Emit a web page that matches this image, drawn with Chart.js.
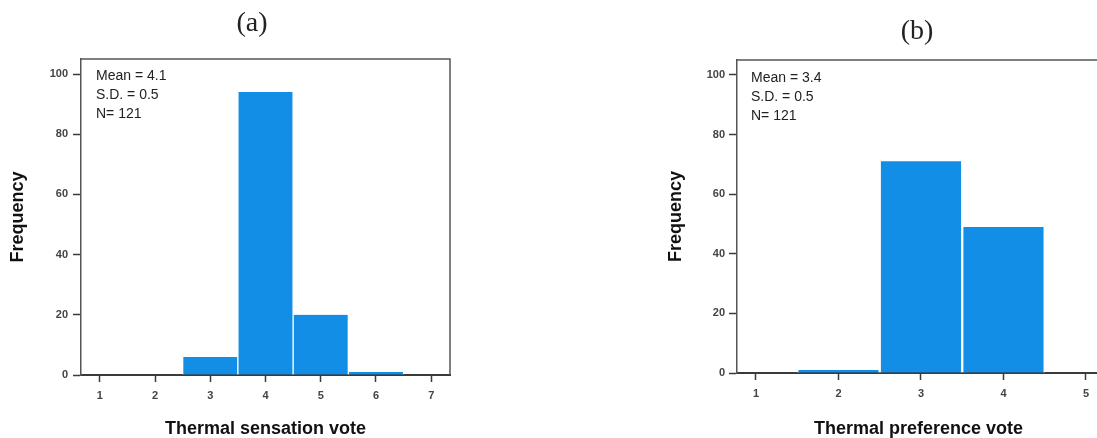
<!DOCTYPE html>
<html>
<head>
<meta charset="utf-8">
<script src="https://cdn.jsdelivr.net/npm/chart.js@4.4.1/dist/chart.umd.min.js"></script>
<style>
  html, body { margin: 0; padding: 0; background: #fff; overflow: hidden; width: 1097px; height: 438px; }
  .panel { position: absolute; top: 0; height: 438px; width: 470px; }
  #panelA { left: 0; }
  #panelB { left: 640px; }
</style>
</head>
<body>
<div class="panel" id="panelA"><canvas id="chartA" width="470" height="438"></canvas></div>
<div class="panel" id="panelB"><canvas id="chartB" width="470" height="438"></canvas></div>
<script>
// Thermal sensation vote (7-point scale)
const sensationVotes = [1, 2, 3, 4, 5, 6, 7];
const sensationCounts = [0, 0, 6, 94, 20, 1, 0];
const sensationStats = ['Mean = 4.1', 'S.D. = 0.5', 'N= 121'];

// Thermal preference vote (5-point scale)
const preferenceVotes = [1, 2, 3, 4, 5];
const preferenceCounts = [0, 1, 71, 49, 0];
const preferenceStats = ['Mean = 3.4', 'S.D. = 0.5', 'N= 121'];

const frequencyTicks = [0, 20, 40, 60, 80, 100];

const BAR_BLUE = '#138ee6';
const AXIS_DARK = '#3a3a3a';

// Top/right frame, panel caption and summary statistics
const decorations = {
  id: 'decorations',
  afterDraw(chart, args, opts) {
    const { ctx, chartArea: a } = chart;
    ctx.save();
    ctx.strokeStyle = '#555';
    ctx.lineWidth = 1.5;
    ctx.beginPath();
    ctx.moveTo(a.left, a.top);
    ctx.lineTo(a.right, a.top);
    ctx.lineTo(a.right, a.bottom);
    ctx.stroke();

    ctx.fillStyle = '#222';
    ctx.textAlign = 'center';
    ctx.textBaseline = 'middle';
    ctx.font = '28px "Liberation Serif", "Times New Roman", serif';
    ctx.fillText(opts.caption, opts.captionX, opts.captionY);

    ctx.textAlign = 'left';
    ctx.font = '14px "Liberation Sans", Arial, sans-serif';
    opts.stats.forEach((line, i) => {
      ctx.fillText(line, a.left + opts.statsDx, a.top + opts.statsDy + i * 19);
    });
    ctx.restore();
  }
};

function histogram(canvasId, cfg) {
  return new Chart(document.getElementById(canvasId), {
    type: 'bar',
    data: {
      datasets: [{
        data: cfg.votes.map((v, i) => ({ x: v, y: cfg.counts[i] })),
        backgroundColor: BAR_BLUE,
        borderColor: '#ffffff',
        borderWidth: { left: cfg.gap, right: cfg.gap, top: 0, bottom: 0 },
        borderSkipped: 'start',
        barPercentage: 1,
        categoryPercentage: 1
      }]
    },
    options: {
      responsive: false,
      animation: false,
      events: [],
      layout: { padding: cfg.padding },
      plugins: {
        legend: { display: false },
        tooltip: { enabled: false },
        decorations: {
          caption: cfg.caption, captionX: cfg.captionX, captionY: cfg.captionY,
          stats: cfg.stats, statsDx: cfg.statsDx, statsDy: cfg.statsDy
        }
      },
      scales: {
        x: {
          type: 'linear',
          min: cfg.xMin,
          max: cfg.xMax,
          offset: false,
          afterBuildTicks: s => { s.ticks = cfg.votes.map(v => ({ value: v })); },
          afterFit: s => { s.height = cfg.xAxisHeight; },
          ticks: {
            stepSize: 1,
            autoSkip: false,
            maxRotation: 0,
            padding: 7,
            color: '#444',
            font: { family: '"Liberation Sans", Arial, sans-serif', size: 11, weight: 'bold' }
          },
          grid: { offset: false, drawOnChartArea: false, drawTicks: true, tickLength: 7, tickColor: AXIS_DARK, tickWidth: 1.5 },
          border: { display: true, color: AXIS_DARK, width: 2 },
          title: {
            display: true,
            text: cfg.xTitle,
            color: '#111',
            font: { family: '"Liberation Sans", Arial, sans-serif', size: 18, weight: 'bold', lineHeight: 1 },
            padding: { top: 0, bottom: 0 }
          }
        },
        y: {
          min: 0,
          max: 105,
          afterBuildTicks: s => { s.ticks = frequencyTicks.map(v => ({ value: v })); },
          afterFit: s => { s.width = cfg.yAxisWidth; },
          ticks: {
            stepSize: 20,
            padding: cfg.yTickPad,
            color: '#444',
            font: { family: '"Liberation Sans", Arial, sans-serif', size: 11, weight: 'bold' }
          },
          grid: { drawOnChartArea: false, drawTicks: true, tickLength: 8, tickColor: AXIS_DARK, tickWidth: 1.5 },
          border: { display: true, color: '#555', width: 1.5 },
          title: {
            display: true,
            text: 'Frequency',
            color: '#111',
            font: { family: '"Liberation Sans", Arial, sans-serif', size: 18, weight: 'bold', lineHeight: 1 },
            padding: { top: 9, bottom: 0 }
          }
        }
      }
    },
    plugins: [decorations]
  });
}

histogram('chartA', {
  votes: sensationVotes, counts: sensationCounts, stats: sensationStats,
  xTitle: 'Thermal sensation vote', caption: '(a)', captionX: 252, captionY: 24,
  xMin: 0.66, xMax: 7.34, gap: 1,
  padding: { top: 59, left: 0, right: 20, bottom: 0 },
  yAxisWidth: 81, xAxisHeight: 63, yTickPad: 5,
  statsDx: 15, statsDy: 17
});

histogram('chartB', {
  votes: preferenceVotes, counts: preferenceCounts, stats: preferenceStats,
  xTitle: 'Thermal preference vote', caption: '(b)', captionX: 277, captionY: 32,
  xMin: 0.77, xMax: 5.17, gap: 1.5,
  padding: { top: 60, left: 18, right: 10, bottom: 0 },
  yAxisWidth: 79, xAxisHeight: 65, yTickPad: 4,
  statsDx: 14, statsDy: 18
});
</script>
</body>
</html>
